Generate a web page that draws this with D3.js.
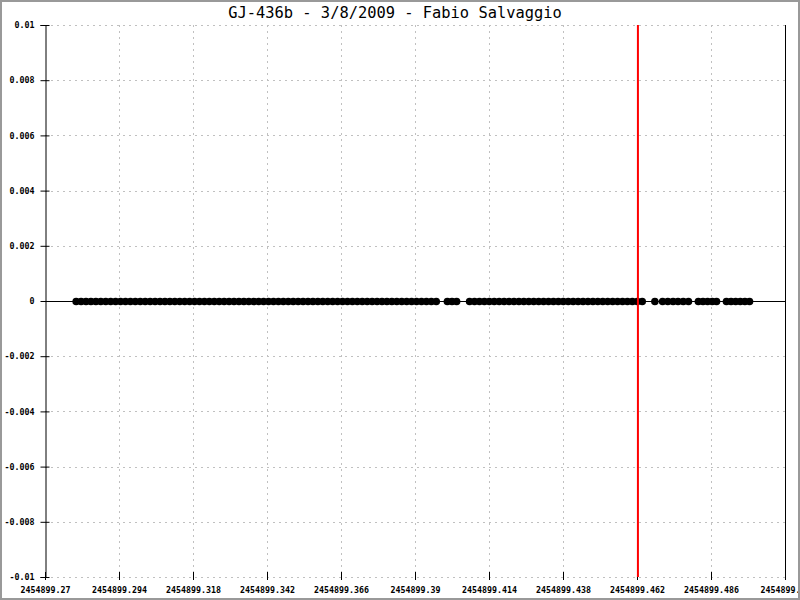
<!DOCTYPE html>
<html>
<head>
<meta charset="utf-8">
<script src="https://cdn.jsdelivr.net/npm/d3@7"></script>
<style>
html, body { margin: 0; padding: 0; background: #fff; }
svg { display: block; }
</style>
</head>
<body>
<script>
// ---- data ----
const title = "GJ-436b - 3/8/2009 - Fabio Salvaggio";
const jdBase = 2454899;
const jdFrac = [
  0.2801, 0.2817, 0.2833, 0.2849, 0.2865, 0.2881, 0.2897, 0.2913, 0.2929, 0.2945,
  0.2961, 0.2977, 0.2993, 0.3009, 0.3025, 0.3041, 0.3057, 0.3073, 0.3089, 0.3105,
  0.3121, 0.3137, 0.3153, 0.3169, 0.3185, 0.3201, 0.3217, 0.3233, 0.3249, 0.3265,
  0.3281, 0.3297, 0.3313, 0.3329, 0.3345, 0.3361, 0.3377, 0.3393, 0.3409, 0.3425,
  0.3441, 0.3457, 0.3473, 0.3489, 0.3505, 0.3521, 0.3537, 0.3553, 0.3569, 0.3585,
  0.3601, 0.3617, 0.3633, 0.3649, 0.3665, 0.3681, 0.3697, 0.3713, 0.3729, 0.3745,
  0.3761, 0.3777, 0.3793, 0.3809, 0.3825, 0.3841, 0.3857, 0.3873, 0.3889, 0.3905,
  0.3921, 0.3937, 0.3953, 0.3969,
  0.4005, 0.4020, 0.4035,
  0.4077, 0.4093, 0.4109, 0.4125, 0.4141, 0.4157, 0.4173, 0.4189, 0.4205, 0.4221,
  0.4237, 0.4253, 0.4269, 0.4285, 0.4301, 0.4317, 0.4333, 0.4349, 0.4365, 0.4381,
  0.4397, 0.4413, 0.4429, 0.4445, 0.4461, 0.4477, 0.4493, 0.4509, 0.4525, 0.4541,
  0.4557, 0.4573, 0.4589, 0.4605, 0.4621, 0.4637,
  0.4678,
  0.4703, 0.4720, 0.4737, 0.4753, 0.4770, 0.4787,
  0.4819, 0.4834, 0.4849, 0.4864, 0.4878,
  0.4910, 0.4925, 0.4940, 0.4955, 0.4970, 0.4985
];
const residualValue = 0; // every observation sits at 0
const markerJD = 2454899.4623; // red vertical marker
const xTickValues = [2454899.27, 2454899.294, 2454899.318, 2454899.342, 2454899.366,
  2454899.39, 2454899.414, 2454899.438, 2454899.462, 2454899.486, 2454899.51];
const xTickLabels = ["2454899.27", "2454899.294", "2454899.318", "2454899.342", "2454899.366",
  "2454899.39", "2454899.414", "2454899.438", "2454899.462", "2454899.486", "2454899.51"];
const yTickValues = [0.01, 0.008, 0.006, 0.004, 0.002, 0, -0.002, -0.004, -0.006, -0.008, -0.01];
const yTickLabels = ["0.01", "0.008", "0.006", "0.004", "0.002", "0", "-0.002", "-0.004", "-0.006", "-0.008", "-0.01"];

// ---- chart ----
const W = 800, H = 600;
const plot = { left: 45, right: 785, top: 25, bottom: 577 };
const svg = d3.select("body").append("svg").attr("width", W).attr("height", H);
svg.append("rect").attr("width", W).attr("height", H).attr("fill", "#fff");

const x = d3.scaleLinear().domain([2454899.27, 2454899.51]).range([plot.left, plot.right]);
const y = d3.scaleLinear().domain([-0.01, 0.01]).range([plot.bottom, plot.top]);

const mono = "'DejaVu Sans Mono', 'Liberation Mono', monospace";
const gridColor = "#c0c0c0";

// grid lines
const grid = svg.append("g");
grid.selectAll("line.v").data(xTickValues.slice(1)).join("line")
  .attr("x1", d => Math.round(x(d)) + 0.5).attr("x2", d => Math.round(x(d)) + 0.5)
  .attr("y1", plot.top).attr("y2", plot.bottom)
  .attr("stroke", gridColor).attr("stroke-dasharray", "2,4");
grid.selectAll("line.h").data(yTickValues).join("line")
  .attr("x1", plot.left).attr("x2", plot.right)
  .attr("y1", d => Math.round(y(d)) + 0.5).attr("y2", d => Math.round(y(d)) + 0.5)
  .attr("stroke", gridColor).attr("stroke-dasharray", "2,4");

// y axis
const yAxis = d3.axisLeft(y).tickValues(yTickValues)
  .tickFormat((d, i) => yTickLabels[i]).tickSizeOuter(0).tickSize(5).tickPadding(6);
const gy = svg.append("g").attr("transform", `translate(${plot.left + 0.5},0)`).call(yAxis);
gy.select(".domain").attr("stroke", "#000");
gy.selectAll(".tick line").attr("x1", 4).attr("x2", -5).attr("stroke", "#000");
gy.selectAll(".tick text").attr("font-family", mono).attr("font-size", "8.3px")
  .attr("font-weight", "bold").attr("fill", "#000");

// x axis (bottom ticks, no domain line)
const xAxis = d3.axisBottom(x).tickValues(xTickValues)
  .tickFormat((d, i) => xTickLabels[i]).tickSizeOuter(0).tickSize(3).tickPadding(7);
const gx = svg.append("g").attr("transform", `translate(0,${plot.bottom})`).call(xAxis);
gx.select(".domain").remove();
gx.selectAll(".tick line").attr("y1", -5).attr("y2", 3).attr("stroke", "#000");
gx.selectAll(".tick text").attr("font-family", mono).attr("font-size", "8.3px")
  .attr("font-weight", "bold").attr("fill", "#000");

// right frame line
svg.append("line")
  .attr("x1", plot.right + 0.5).attr("x2", plot.right + 0.5)
  .attr("y1", plot.top).attr("y2", plot.bottom)
  .attr("stroke", "#000");

// zero line
svg.append("line")
  .attr("x1", plot.left).attr("x2", plot.right)
  .attr("y1", Math.round(y(0)) + 0.5).attr("y2", Math.round(y(0)) + 0.5)
  .attr("stroke", "#000");

// points
const points = jdFrac.map(f => ({ jd: jdBase + f, v: residualValue }));
svg.append("g").selectAll("circle").data(points).join("circle")
  .attr("cx", d => x(d.jd)).attr("cy", d => Math.round(y(d.v)) + 0.5)
  .attr("r", 3.8).attr("fill", "#000");

// red marker
svg.append("line")
  .attr("x1", x(markerJD)).attr("x2", x(markerJD))
  .attr("y1", plot.top).attr("y2", plot.bottom)
  .attr("stroke", "#ff0000").attr("stroke-width", 2);

// title
svg.append("text").attr("x", 395).attr("y", 18)
  .attr("text-anchor", "middle").attr("font-family", mono).attr("font-size", "15.4px")
  .attr("fill", "#000").text(title);

// image border
svg.append("rect").attr("x", 1).attr("y", 1).attr("width", W - 2).attr("height", H - 2)
  .attr("fill", "none").attr("stroke", "#999").attr("stroke-width", 2);
</script>
</body>
</html>
